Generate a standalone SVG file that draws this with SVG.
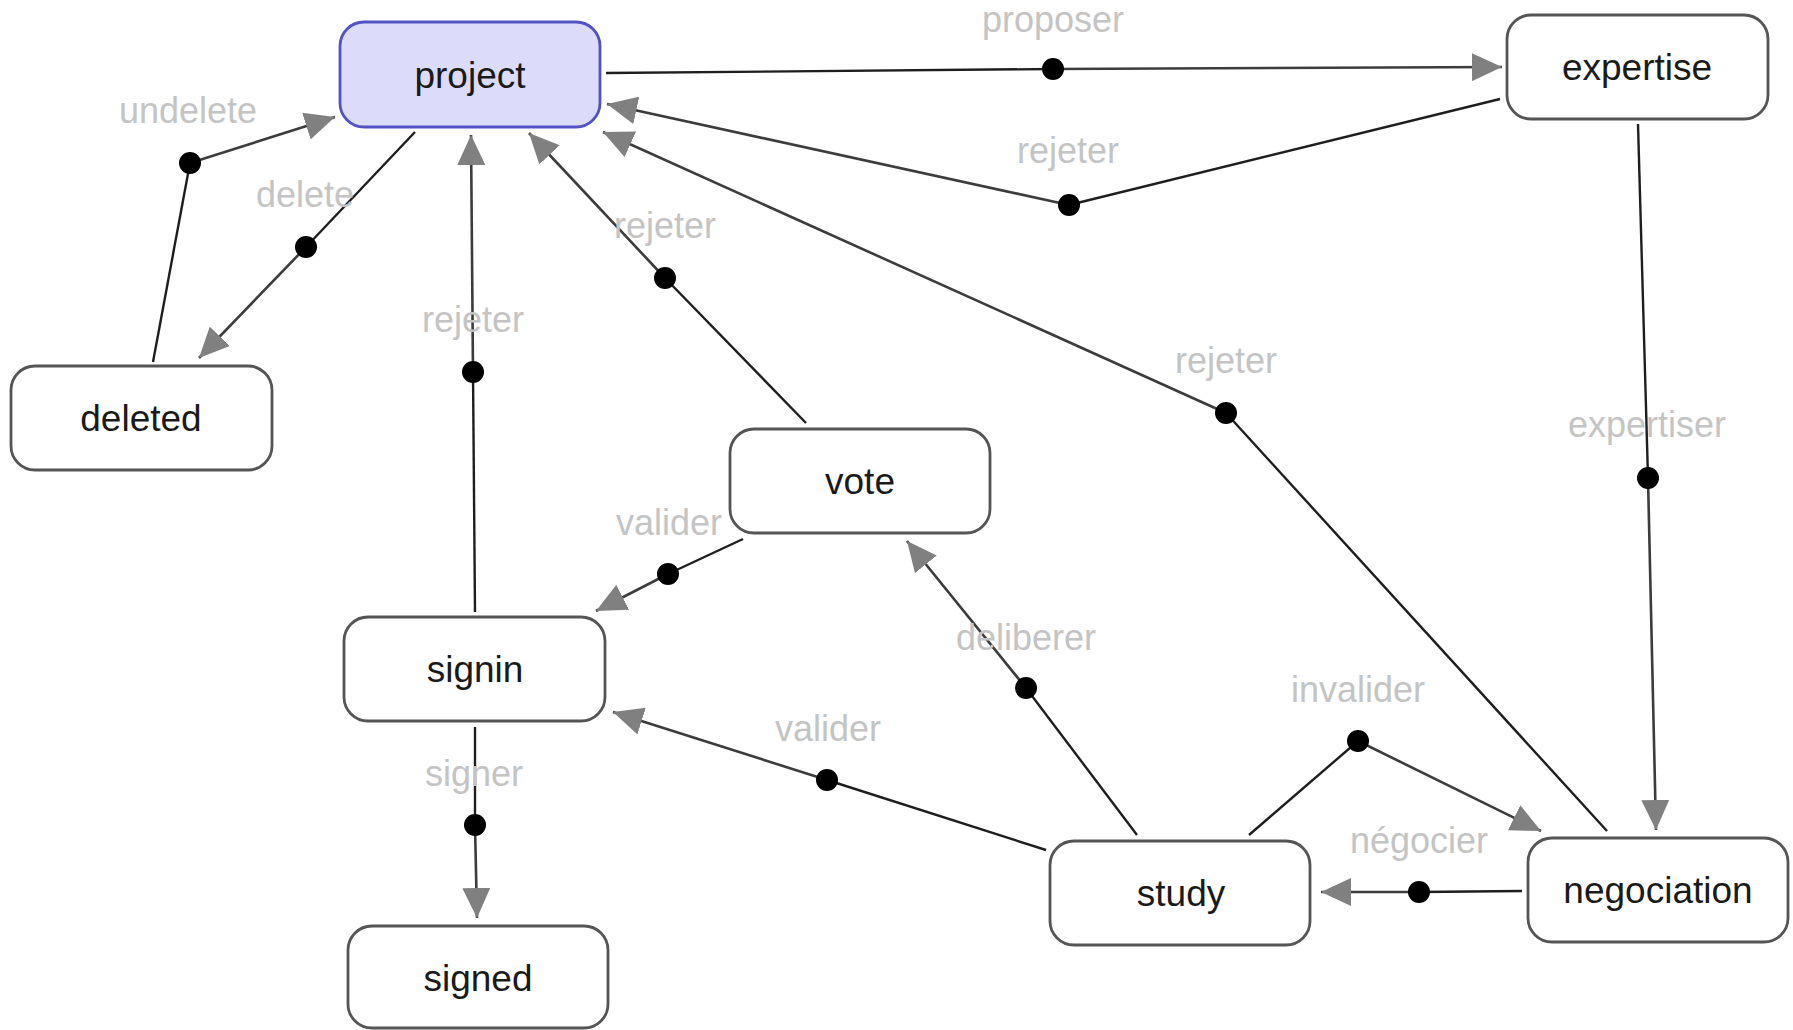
<svg xmlns="http://www.w3.org/2000/svg" width="1793" height="1030" viewBox="0 0 1793 1030">
<style>
.node rect{fill:#ffffff;stroke:#555555;stroke-width:2.8}
#project rect{fill:#dcdcfa;stroke:#5252c4}
.node text{font-family:"Liberation Sans",Arial,sans-serif;font-size:37px;fill:#1a1a1a;text-anchor:middle}
.lbl{font-family:"Liberation Sans",Arial,sans-serif;font-size:36px;fill:#c4c4c4;text-anchor:middle}
.a{fill:none;stroke:#1e1e1e;stroke-width:2.4}
.b{fill:none;stroke:#3c3c3c;stroke-width:2.6;marker-end:url(#arr)}
.dot{fill:#000000}
</style>
<defs>
<marker id="arr" markerUnits="userSpaceOnUse" markerWidth="30" markerHeight="28" refX="30" refY="14" orient="auto">
<path d="M0,0 L30,14 L0,28 Z" fill="#808080"/>
</marker>
</defs>
<rect width="1793" height="1030" fill="#ffffff"/>
<g id="connectors">
<!-- proposer -->
<path class="a" d="M606,73 L1053,69"/><path class="b" d="M1053,69 L1502,67"/>
<circle class="dot" cx="1053" cy="69" r="11"/><text class="lbl" x="1053" y="32">proposer</text>
<!-- rejeter expertise->project -->
<path class="a" d="M1500,99 L1069,205"/><path class="b" d="M1069,205 L607,104"/>
<circle class="dot" cx="1069" cy="205" r="11"/><text class="lbl" x="1068" y="163">rejeter</text>
<!-- rejeter negociation->project -->
<path class="a" d="M1607,831 L1226,413"/><path class="b" d="M1226,413 L603,132"/>
<circle class="dot" cx="1226" cy="413" r="11"/><text class="lbl" x="1226" y="373">rejeter</text>
<!-- rejeter vote->project -->
<path class="a" d="M806,423 L665,278"/><path class="b" d="M665,278 L529,133"/>
<circle class="dot" cx="665" cy="278" r="11"/><text class="lbl" x="665" y="238">rejeter</text>
<!-- rejeter signin->project -->
<path class="a" d="M475,612 L473,372"/><path class="b" d="M473,372 L471,135"/>
<circle class="dot" cx="473" cy="372" r="11"/><text class="lbl" x="473" y="332">rejeter</text>
<!-- undelete -->
<path class="a" d="M153,362 L190,163"/><path class="b" d="M190,163 L335,117"/>
<circle class="dot" cx="190" cy="163" r="11"/><text class="lbl" x="188" y="123">undelete</text>
<!-- delete -->
<path class="a" d="M415,132 L306,247"/><path class="b" d="M306,247 L199,358"/>
<circle class="dot" cx="306" cy="247" r="11"/><text class="lbl" x="305" y="207">delete</text>
<!-- expertiser -->
<path class="a" d="M1638,124 L1648,478"/><path class="b" d="M1648,478 L1656,830"/>
<circle class="dot" cx="1648" cy="478" r="11"/><text class="lbl" x="1647" y="437">expertiser</text>
<!-- valider vote->signin -->
<path class="a" d="M743,539 L668,574"/><path class="b" d="M668,574 L596,611"/>
<circle class="dot" cx="668" cy="574" r="11"/><text class="lbl" x="669" y="535">valider</text>
<!-- signer -->
<path class="a" d="M475,727 L475,825"/><path class="b" d="M475,825 L477,918"/>
<circle class="dot" cx="475" cy="825" r="11"/><text class="lbl" x="474" y="786">signer</text>
<!-- valider study->signin -->
<path class="a" d="M1046,850 L827,780"/><path class="b" d="M827,780 L613,712"/>
<circle class="dot" cx="827" cy="780" r="11"/><text class="lbl" x="828" y="741">valider</text>
<!-- deliberer -->
<path class="a" d="M1137,835 L1026,688"/><path class="b" d="M1026,688 L907,541"/>
<circle class="dot" cx="1026" cy="688" r="11"/><text class="lbl" x="1026" y="650">deliberer</text>
<!-- invalider -->
<path class="a" d="M1249,835 L1358,741"/><path class="b" d="M1358,741 L1541,831"/>
<circle class="dot" cx="1358" cy="741" r="11"/><text class="lbl" x="1358" y="702">invalider</text>
<!-- negocier -->
<path class="a" d="M1522,891 L1419,892"/><path class="b" d="M1419,892 L1321,892"/>
<circle class="dot" cx="1419" cy="892" r="11"/><text class="lbl" x="1419" y="853">négocier</text>
</g>
<g id="project" class="node"><rect x="340" y="22" width="260" height="105" rx="24"/><text x="470" y="88">project</text></g>
<g id="expertise" class="node"><rect x="1507" y="15" width="261" height="104" rx="24"/><text x="1637" y="80">expertise</text></g>
<g id="deleted" class="node"><rect x="11" y="366" width="261" height="104" rx="24"/><text x="141" y="431">deleted</text></g>
<g id="vote" class="node"><rect x="730" y="429" width="260" height="104" rx="24"/><text x="860" y="494">vote</text></g>
<g id="signin" class="node"><rect x="344" y="617" width="261" height="104" rx="24"/><text x="475" y="682">signin</text></g>
<g id="signed" class="node"><rect x="348" y="926" width="260" height="102" rx="24"/><text x="478" y="991">signed</text></g>
<g id="study" class="node"><rect x="1050" y="841" width="260" height="104" rx="24"/><text x="1181" y="906">study</text></g>
<g id="negociation" class="node"><rect x="1528" y="838" width="260" height="104" rx="24"/><text x="1658" y="903">negociation</text></g>
</svg>
